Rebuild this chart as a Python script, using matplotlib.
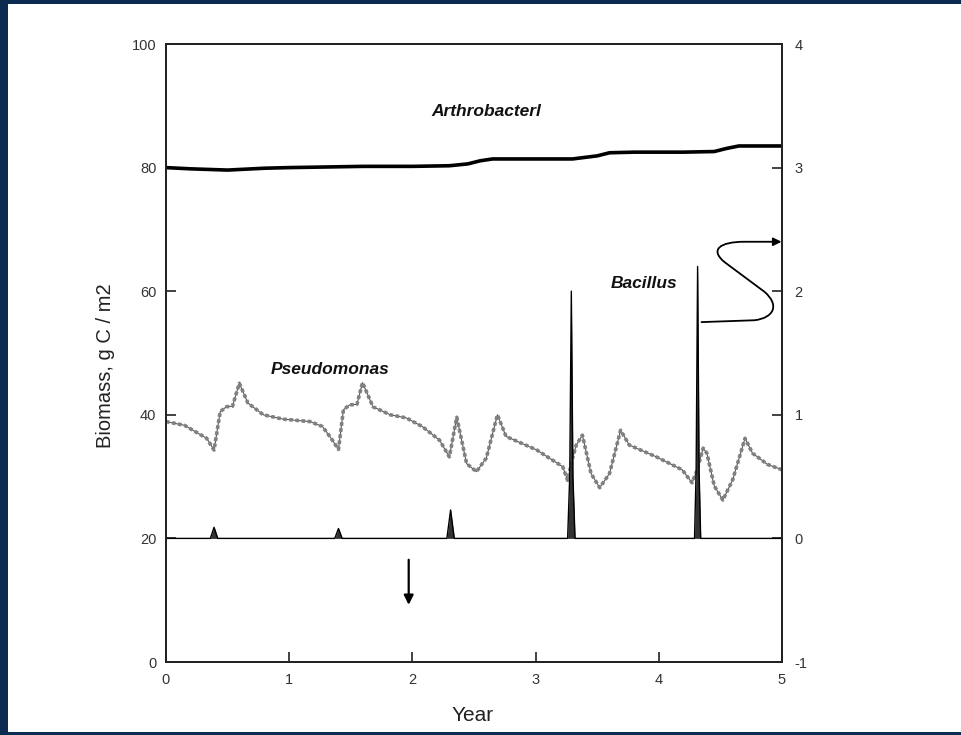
import matplotlib
matplotlib.use('Agg')
import matplotlib.pyplot as plt
from matplotlib.patches import Rectangle, FancyArrowPatch
from matplotlib.path import Path

plt.rcParams['font.family'] = ['Liberation Sans', 'DejaVu Sans']
plt.rcParams['axes.unicode_minus'] = False

# Arthrobacter biomass (left axis, g C / m2)
arth_x = [0.0, 0.2, 0.5, 0.8, 1.0, 1.3, 1.6, 2.0, 2.3, 2.45, 2.55, 2.65, 3.0, 3.3,
          3.5, 3.6, 3.8, 4.2, 4.45, 4.55, 4.65, 5.0]
arth_y = [80.0, 79.8, 79.6, 79.9, 80.0, 80.1, 80.2, 80.2, 80.3, 80.6, 81.1, 81.4, 81.4, 81.4,
          81.9, 82.4, 82.5, 82.5, 82.6, 83.1, 83.5, 83.5]

# Pseudomonas biomass (left axis)
pseu_x = [0.0, 0.15, 0.33, 0.39, 0.44, 0.49, 0.54, 0.595, 0.665, 0.79, 0.95, 1.17, 1.27,
          1.34, 1.40, 1.44, 1.49, 1.55, 1.595, 1.68, 1.82, 1.95, 2.08, 2.22, 2.30, 2.36,
          2.44, 2.52, 2.60, 2.69, 2.76, 3.01, 3.22, 3.26, 3.30, 3.33, 3.38, 3.45, 3.52,
          3.60, 3.69, 3.76, 3.98, 4.19, 4.27, 4.31, 4.36, 4.39, 4.45, 4.52, 4.60, 4.70,
          4.76, 4.88, 5.0]
pseu_y = [38.9, 38.3, 36.2, 34.3, 40.5, 41.3, 41.4, 45.1, 41.9, 40.0, 39.3, 38.9, 38.1,
          36.2, 34.4, 40.8, 41.6, 41.7, 45.2, 41.3, 40.0, 39.5, 38.1, 35.9, 33.2, 39.6,
          32.1, 30.8, 33.0, 40.0, 36.5, 34.3, 31.6, 29.4, 33.0, 35.1, 36.7, 30.5, 28.2,
          30.5, 37.5, 35.1, 33.2, 31.1, 29.0, 31.0, 34.6, 33.8, 28.5, 26.2, 29.5, 36.2,
          33.8, 32.0, 31.1]

# Bacillus biomass (right axis)
baci_x = [0.0, 0.36, 0.39, 0.42, 1.37, 1.40, 1.43, 2.28, 2.31, 2.34, 3.26, 3.277,
          3.29, 3.303, 3.32, 4.29, 4.303, 4.315, 4.327, 4.34, 5.0]
baci_y = [0.0, 0.0, 0.09, 0.0, 0.0, 0.08, 0.0, 0.0, 0.23, 0.0, 0.0, 0.5,
          2.0, 0.5, 0.0, 0.0, 0.55, 2.2, 0.55, 0.0, 0.0]

navy = '#0b2b50'
tick_col = '#333333'

fig = plt.figure(figsize=(9.61, 7.35), dpi=100, facecolor=navy)
fig.patches.append(Rectangle((8 / 961, 3 / 735), 1.0, (735 - 4 - 3) / 735,
                             transform=fig.transFigure, facecolor='white',
                             edgecolor='none', zorder=-5))

ax = fig.add_axes([166 / 961, 1 - 662 / 735, 616 / 961, 618 / 735])
ax.set_facecolor('white')
ax2 = ax.twinx()

ax.set_xlim(0, 5)
ax.set_ylim(0, 100)
ax2.set_ylim(-1, 4)

ax.set_xticks([0, 1, 2, 3, 4, 5])
ax.set_yticks([0, 20, 40, 60, 80, 100])
ax2.set_yticks([-1, 0, 1, 2, 3, 4])
for a in (ax, ax2):
    a.tick_params(direction='in', length=7, width=1.2, colors='#222222',
                  labelcolor=tick_col, labelsize=10.5)
ax.tick_params(axis='x', pad=8)
ax.tick_params(axis='y', pad=7)
ax2.tick_params(axis='y', pad=9)
for a in (ax, ax2):
    for s in a.spines.values():
        s.set_linewidth(1.3)
        s.set_color('#222222')

ax.set_xlabel('Year', fontsize=15, color='#222222')
ax.xaxis.set_label_coords(0.498, -0.072)
ax.set_ylabel('Biomass, g C / m2', fontsize=14.5, color='#222222')
ax.yaxis.set_label_coords(-0.082, 0.48)

ax.plot(arth_x, arth_y, color='black', lw=2.6, solid_capstyle='butt')
ax.plot(pseu_x, pseu_y, color='#555555', lw=0.8)
ax.plot(pseu_x, pseu_y, color='#808080', lw=2.6, linestyle=(0, (1.0, 0.7)))

ax2.fill_between(baci_x, 0, baci_y, color='#333333', lw=0)
ax2.plot(baci_x, baci_y, color='black', lw=1.0)

ax.text(2.6, 89.0, 'Arthrobacterl', fontsize=12.5, fontstyle='italic', fontweight='bold',
        ha='center', va='center', color='#111111')
ax.text(1.33, 47.4, 'Pseudomonas', fontsize=12.5, fontstyle='italic', fontweight='bold',
        ha='center', va='center', color='#111111')
ax.text(3.88, 61.3, 'Bacillus', fontsize=12.5, fontstyle='italic', fontweight='bold',
        ha='center', va='center', color='#111111')

# down arrow
ax.annotate('', xy=(1.97, 8.8), xytext=(1.97, 17.0),
            arrowprops=dict(arrowstyle='-|>', color='black', lw=1.6, mutation_scale=14))

# curly arrow to right axis
verts = [(4.347, 55.0), (4.777, 55.3),
         (4.939, 55.7), (4.980, 57.8), (4.858, 59.9),
         (4.534, 64.7),
         (4.412, 66.7), (4.493, 68.0), (4.696, 68.0),
         (4.996, 68.0)]
codes = [Path.MOVETO, Path.LINETO,
         Path.CURVE4, Path.CURVE4, Path.CURVE4,
         Path.LINETO,
         Path.CURVE4, Path.CURVE4, Path.CURVE4,
         Path.LINETO]
arrow = FancyArrowPatch(path=Path(verts, codes), arrowstyle='-|>', color='black',
                        lw=1.3, mutation_scale=12)
ax.add_patch(arrow)

fig.savefig('out.png', dpi=100, facecolor=navy)
